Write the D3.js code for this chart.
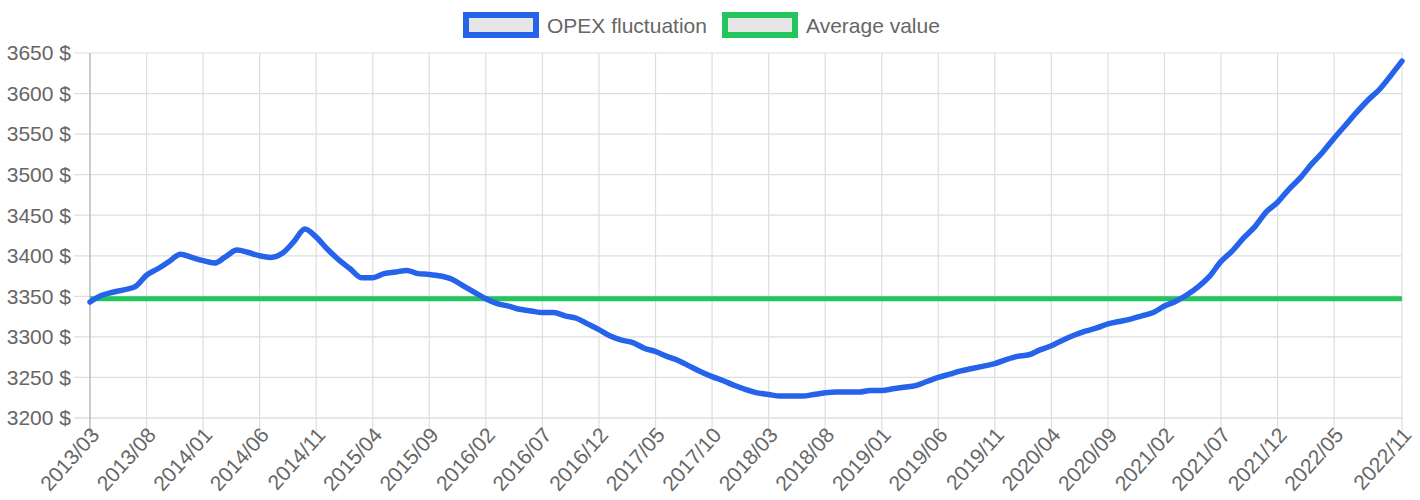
<!DOCTYPE html>
<html>
<head>
<meta charset="utf-8">
<script src="https://cdn.jsdelivr.net/npm/d3@7"></script>
<style>
  body { margin: 0; background: #fff; }
  svg text { font-family: "Liberation Sans", Arial, Helvetica, sans-serif; fill: #666; }
</style>
</head>
<body>
<div id="chart"></div>
<script>
// months 2013/03 .. 2022/11
let months = d3.timeMonth.range(new Date(2013, 2, 1), new Date(2022, 11, 1))
  .map(d3.timeFormat("%Y/%m"))

let opex = [
  3343, 3351, 3355, 3358, 3362, 3376, 3384, 3393, 3402, 3398,
  3394, 3391, 3399, 3407, 3404, 3400, 3398, 3403, 3417, 3433,
  3423, 3408, 3395, 3384, 3373, 3373, 3378, 3380, 3382, 3378,
  3377, 3375, 3371, 3363, 3355, 3347, 3341, 3338, 3334, 3332,
  3330, 3330, 3326, 3323, 3316, 3309, 3301, 3296, 3293, 3286,
  3282, 3276, 3271, 3264, 3257, 3251, 3246, 3240, 3235, 3231,
  3229, 3227, 3227, 3227, 3229, 3231, 3232, 3232, 3232, 3234,
  3234, 3236, 3238, 3240, 3245, 3250, 3254, 3258, 3261, 3264,
  3267, 3272, 3276, 3278, 3284, 3289, 3296, 3302, 3307, 3311,
  3316, 3319, 3322, 3326, 3330, 3338, 3344, 3352, 3362, 3375,
  3393, 3406, 3422, 3436, 3454, 3466, 3482, 3496, 3513, 3528,
  3545, 3561, 3577, 3592, 3605, 3622, 3640
]

let average = 3347

let xTicks = [
  "2013/03", "2013/08", "2014/01", "2014/06", "2014/11", "2015/04",
  "2015/09", "2016/02", "2016/07", "2016/12", "2017/05", "2017/10",
  "2018/03", "2018/08", "2019/01", "2019/06", "2019/11", "2020/04",
  "2020/09", "2021/02", "2021/07", "2021/12", "2022/05", "2022/11"
]
let yTicks = [3200, 3250, 3300, 3350, 3400, 3450, 3500, 3550, 3600, 3650]

let legendItems = [
  { name: "OPEX fluctuation", color: "#2563eb" },
  { name: "Average value", color: "#22c55e" }
]

let W = 1420, H = 500
let plotLeft = 90, plotRight = 1402, plotTop = 53, plotBottom = 418

let svg = d3.select("#chart")
  .append("svg")
  .attr("width", W)
  .attr("height", H)

let x = d3.scalePoint()
  .domain(months)
  .range([plotLeft, plotRight])
let y = d3.scaleLinear()
  .domain([3200, 3650])
  .range([plotBottom, plotTop])

// grid
svg.append("g")
  .selectAll("line")
  .data(yTicks)
  .enter()
  .append("line")
    .attr("x1", plotLeft - 16)
    .attr("x2", plotRight)
    .attr("y1", d => y(d))
    .attr("y2", d => y(d))
    .attr("stroke", d => d == 3200 ? "#cfcfcf" : "#dedede")
    .attr("stroke-width", 1.2)

svg.append("g")
  .selectAll("line")
  .data(xTicks)
  .enter()
  .append("line")
    .attr("x1", d => x(d))
    .attr("x2", d => x(d))
    .attr("y1", plotTop)
    .attr("y2", plotBottom + 16)
    .attr("stroke", (d, i) => i == 0 ? "#bbbbbb" : "#dedede")
    .attr("stroke-width", (d, i) => i == 0 ? 1.5 : 1.2)

// y labels
svg.append("g")
  .selectAll("text")
  .data(yTicks)
  .enter()
  .append("text")
    .attr("x", plotLeft - 19)
    .attr("y", d => y(d))
    .attr("dy", "0.35em")
    .attr("text-anchor", "end")
    .style("font-size", "21px")
    .text(d => d + " $")

// x labels
svg.append("g")
  .selectAll("text")
  .data(xTicks)
  .enter()
  .append("text")
    .attr("transform", d => "translate(" + (x(d) + 5) + "," + (plotBottom + 13) + ") rotate(-48)")
    .attr("dy", "0.35em")
    .attr("text-anchor", "end")
    .style("font-size", "21px")
    .text(d => d)

// average line
svg.append("line")
  .attr("x1", plotLeft)
  .attr("x2", plotRight)
  .attr("y1", y(average))
  .attr("y2", y(average))
  .attr("stroke", legendItems[1].color)
  .attr("stroke-width", 5)

// opex line
let line = d3.line()
  .x((d, i) => x(months[i]))
  .y(d => y(d))
  .curve(d3.curveMonotoneX)

svg.append("path")
  .datum(opex)
  .attr("d", line)
  .attr("fill", "none")
  .attr("stroke", legendItems[0].color)
  .attr("stroke-width", 5.5)
  .attr("stroke-linejoin", "round")
  .attr("stroke-linecap", "round")

// legend
let legendX = [466, 725]
let legend = svg.append("g")
  .selectAll("g")
  .data(legendItems)
  .enter()
  .append("g")
    .attr("transform", (d, i) => "translate(" + legendX[i] + ",15)")
legend.append("rect")
  .attr("width", 70)
  .attr("height", 20)
  .attr("fill", "#e6e6e6")
  .attr("stroke", d => d.color)
  .attr("stroke-width", 6)
legend.append("text")
  .attr("x", 81)
  .attr("y", 11)
  .attr("dy", "0.35em")
  .style("font-size", "21px")
  .text(d => d.name)
</script>
</body>
</html>
